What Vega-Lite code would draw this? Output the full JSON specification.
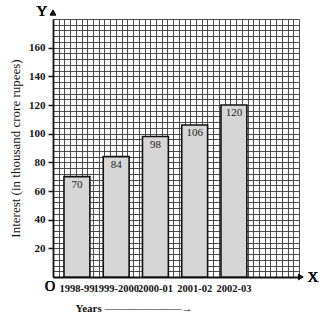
{
  "$schema": "https://vega.github.io/schema/vega-lite/v6.json",
  "autosize": "none",
  "padding": {"left": 53, "top": 19, "right": 24, "bottom": 46},
  "width": 246,
  "height": 258,
  "background": "white",
  "config": {
    "view": {"stroke": null},
    "font": "Liberation Serif"
  },
  "data": {
    "values": [
      {"Year": "1998-99", "Interest": 70},
      {"Year": "1999-2000", "Interest": 84},
      {"Year": "2000-01", "Interest": 98},
      {"Year": "2001-02", "Interest": 106},
      {"Year": "2002-03", "Interest": 120}
    ]
  },
  "layer": [
    {
      "mark": {"type": "point", "opacity": 0},
      "encoding": {
        "x": {
          "datum": 0, "type": "quantitative",
          "scale": {"domain": [0, 43], "nice": false, "zero": false},
          "axis": {
            "orient": "top", "grid": true, "gridColor": "#3a3a3a", "gridWidth": 0.9, "gridOpacity": 1,
            "values": [0,1,2,3,4,5,6,7,8,9,10,11,12,13,14,15,16,17,18,19,20,21,22,23,24,25,26,27,28,29,30,31,32,33,34,35,36,37,38,39,40,41,42,43],
            "labels": false, "ticks": false, "domain": false, "title": null
          }
        },
        "y": {
          "datum": 0, "type": "quantitative",
          "scale": {"domain": [0, 180], "nice": false},
          "axis": {
            "orient": "right", "grid": true, "gridColor": "#3a3a3a", "gridWidth": 0.9, "gridOpacity": 1,
            "values": [0,4,8,12,16,20,24,28,32,36,40,44,48,52,56,60,64,68,72,76,80,84,88,92,96,100,104,108,112,116,120,124,128,132,136,140,144,148,152,156,160,164,168,172,176,180],
            "labels": false, "ticks": false, "domain": false, "title": null
          }
        }
      }
    },
    {
      "mark": {"type": "bar", "fill": "#d6d6d6", "stroke": "#111", "strokeWidth": 1.6},
      "encoding": {
        "x": {
          "field": "Year", "type": "nominal", "sort": null,
          "scale": {"type": "band", "paddingInner": 0.34, "paddingOuter": 0.804, "align": 0.174},
          "axis": {
            "orient": "bottom", "title": "Years ———————→",
            "titleFont": "Liberation Serif", "titleFontWeight": "bold", "titleFontSize": 11, "titleColor": "#111",
            "titleAnchor": "start", "titleAlign": "left", "titleX": 22, "titlePadding": 9,
            "labelAngle": 0, "labelFont": "Liberation Serif", "labelFontWeight": "bold", "labelFontSize": 10.5,
            "labelColor": "#111", "labelOverlap": false, "labelPadding": 6,
            "ticks": false, "domainColor": "#111", "domainWidth": 1.8, "grid": false
          }
        },
        "y": {
          "field": "Interest", "type": "quantitative",
          "scale": {"domain": [0, 180], "nice": false},
          "axis": {
            "orient": "left", "values": [20, 40, 60, 80, 100, 120, 140, 160],
            "title": "Interest (in thousand crore rupees)",
            "titleFont": "Liberation Serif", "titleFontWeight": "normal", "titleFontSize": 13, "titleColor": "#111",
            "titlePadding": 6,
            "labelFont": "Liberation Serif", "labelFontWeight": "bold", "labelFontSize": 11, "labelColor": "#111",
            "labelPadding": 3, "tickSize": 5, "tickColor": "#111", "tickWidth": 1.5,
            "domainColor": "#111", "domainWidth": 1.8, "grid": false
          }
        }
      }
    },
    {
      "mark": {"type": "text", "baseline": "middle", "dy": 8, "font": "Liberation Serif", "fontSize": 11, "color": "#222"},
      "encoding": {
        "x": {"field": "Year", "type": "nominal", "sort": null, "bandPosition": 0.5,
              "scale": {"type": "band", "paddingInner": 0.34, "paddingOuter": 0.804, "align": 0.174}, "axis": null},
        "y": {"field": "Interest", "type": "quantitative", "axis": null},
        "text": {"field": "Interest", "type": "quantitative"}
      }
    },
    {
      "mark": {"type": "point", "shape": "triangle-up", "filled": true, "color": "#111", "size": 40, "opacity": 1},
      "encoding": {
        "x": {"datum": 0, "type": "quantitative", "scale": {"domain": [0, 43], "nice": false, "zero": false}, "axis": null},
        "y": {"datum": 184.5, "type": "quantitative", "axis": null}
      }
    },
    {
      "mark": {"type": "point", "shape": "triangle-right", "filled": true, "color": "#111", "size": 40, "opacity": 1},
      "encoding": {
        "x": {"datum": 43.3, "type": "quantitative", "scale": {"domain": [0, 43], "nice": false, "zero": false}, "axis": null},
        "y": {"datum": 0, "type": "quantitative", "axis": null}
      }
    },
    {
      "mark": {"type": "text", "dx": -11, "baseline": "middle", "font": "Liberation Serif", "fontSize": 15, "color": "#111"},
      "encoding": {
        "x": {"datum": 0, "type": "quantitative", "scale": {"domain": [0, 43], "nice": false, "zero": false}, "axis": null},
        "y": {"datum": 185.5, "type": "quantitative", "axis": null},
        "text": {"value": "Y"}
      }
    },
    {
      "mark": {"type": "text", "dx": 14, "baseline": "middle", "font": "Liberation Serif", "fontSize": 15, "color": "#111"},
      "encoding": {
        "x": {"datum": 43, "type": "quantitative", "scale": {"domain": [0, 43], "nice": false, "zero": false}, "axis": null},
        "y": {"datum": 0, "type": "quantitative", "axis": null},
        "text": {"value": "X"}
      }
    },
    {
      "mark": {"type": "text", "dx": -3, "dy": 10, "baseline": "middle", "font": "Liberation Serif", "fontSize": 14, "color": "#111"},
      "encoding": {
        "x": {"datum": 0, "type": "quantitative", "scale": {"domain": [0, 43], "nice": false, "zero": false}, "axis": null},
        "y": {"datum": 0, "type": "quantitative", "axis": null},
        "text": {"value": "O"}
      }
    }
  ],
  "resolve": {"scale": {"x": "independent"}, "axis": {"x": "independent", "y": "independent"}}
}
